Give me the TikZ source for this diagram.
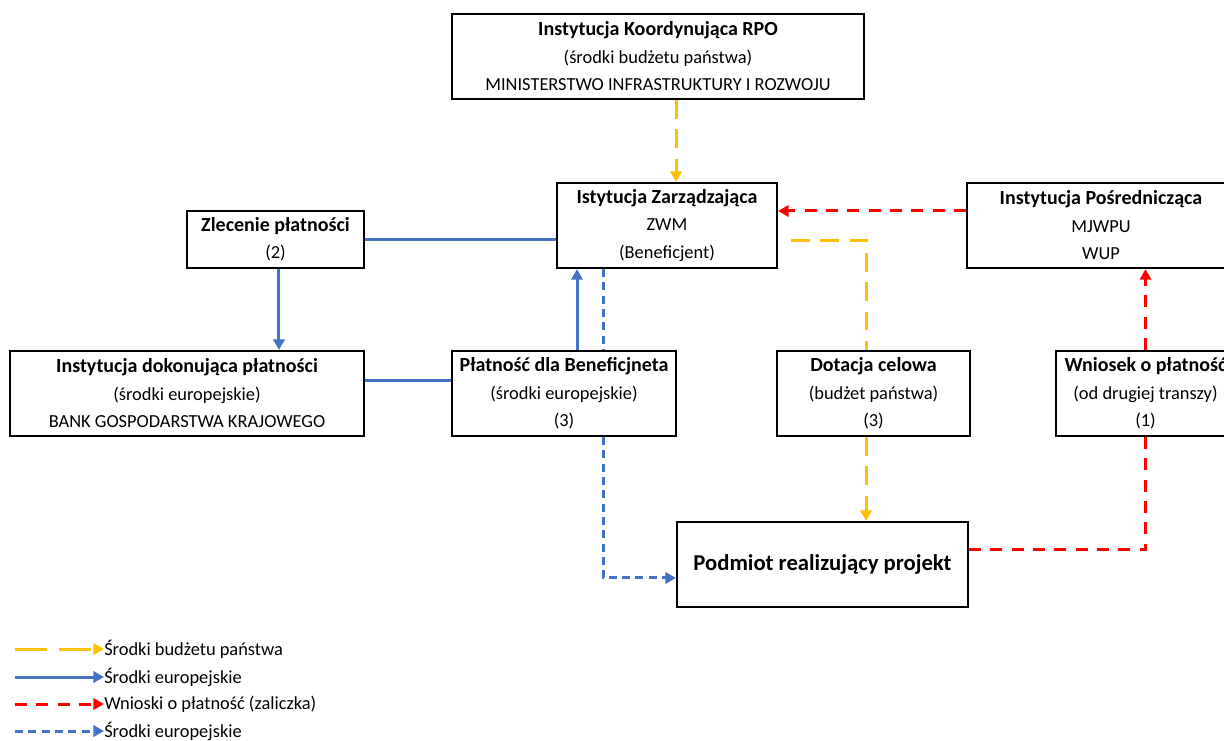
\documentclass[tikz,border=0pt]{standalone}
\usepackage{fontspec}
\setmainfont{Carlito}
\usetikzlibrary{arrows.meta,calc}

\definecolor{zolty}{HTML}{FFC000}
\definecolor{niebieski}{HTML}{4472C4}
\definecolor{czerwony}{HTML}{FF0000}

\tikzset{
  box/.style={draw=black, line width=1.6pt, fill=white, align=center,
    inner sep=0pt, font=\fontsize{13.8}{20.6}\selectfont},
  budzet/.style={draw=zolty, line width=2.25pt, dash pattern=on 14pt off 8pt},
  unijne/.style={draw=niebieski, line width=2.25pt},
  unijnedash/.style={draw=niebieski, line width=2.25pt, dash pattern=on 6pt off 4pt},
  wniosek/.style={draw=czerwony, line width=2.25pt, dash pattern=on 9pt off 7pt},
  grot/.style={-{Triangle[length=8pt,width=8.5pt]}},
  legtext/.style={anchor=west, inner sep=0pt, font=\fontsize{13.8}{14}\selectfont}
}

\newcommand{\naglowek}[1]{{\fontsize{15}{20.6}\selectfont\bfseries #1}}

\begin{document}
\begin{tikzpicture}[x=0.75pt, y=-0.75pt]
  \useasboundingbox (0,0) rectangle (1224,740);
  \clip (0,0) rectangle (1224,740);

  % instytucje
  \node[box, minimum width=309pt, minimum height=63.75pt] (krpo) at (658,56.5)
    {\naglowek{Instytucja Koordynująca RPO}\\(środki budżetu państwa)\\MINISTERSTWO INFRASTRUKTURY I ROZWOJU};
  \node[box, minimum width=165pt, minimum height=63.75pt] (iz) at (667,225.5)
    {\naglowek{Istytucja Zarządzająca}\\ZWM\\(Beneficjent)};
  \node[box, minimum width=132.75pt, minimum height=42.75pt] (zlec) at (275.5,239.5)
    {\naglowek{Zlecenie płatności}\\(2)};
  \node[box, minimum width=201pt, minimum height=63.75pt] (ip) at (1101,225.5)
    {\naglowek{Instytucja Pośrednicząca}\\MJWPU\\WUP};
  \node[box, minimum width=265.5pt, minimum height=63.75pt] (bank) at (187,393.5)
    {\naglowek{Instytucja dokonująca płatności}\\(środki europejskie)\\BANK GOSPODARSTWA KRAJOWEGO};
  \node[box, minimum width=168pt, minimum height=63.75pt] (plat) at (564,393.5)
    {\naglowek{Płatność dla Beneficjneta}\\(środki europejskie)\\(3)};
  \node[box, minimum width=144.75pt, minimum height=63.75pt] (dot) at (873.5,393.5)
    {\naglowek{Dotacja celowa}\\(budżet państwa)\\(3)};
  \node[box, minimum width=134.25pt, minimum height=63.75pt] (wn) at (1145.5,393.5)
    {\naglowek{Wniosek o płatność}\\(od drugiej transzy)\\(1)};
  \node[box, minimum width=218.25pt, minimum height=63.75pt] (pod) at (822.5,564.5)
    {\fontsize{17}{18}\selectfont\bfseries Podmiot realizujący projekt};

  % przeplywy
  \draw[budzet, grot] ([xshift=13.5pt]krpo.south) -- ([xshift=13.5pt]krpo.south |- iz.north);
  \draw[wniosek, grot] ([yshift=10.9pt]ip.west) -- ([yshift=10.9pt]ip.west -| iz.east);
  \draw[unijne] (zlec.east) -- (zlec.east -| iz.west);
  \draw[unijne, grot] ([xshift=2.6pt]zlec.south) -- ([xshift=2.6pt]zlec.south |- bank.north);
  \draw[unijne] ([yshift=10.1pt]bank.east) -- ([yshift=10.1pt]bank.east -| plat.west);
  \draw[unijne, grot] ([xshift=9.75pt]plat.north) -- ([xshift=9.75pt]plat.north |- iz.south);
  \draw[unijnedash] ([xshift=-48pt]iz.south) -- ([xshift=-48pt]iz.south |- plat.north);
  \draw[unijnedash, grot] ([xshift=29.25pt]plat.south) |- ([yshift=-10.1pt]pod.west);
  \draw[budzet] ([xshift=9.75pt,yshift=-10.9pt]iz.east) -| ([xshift=-5.6pt]dot.north);
  \draw[budzet, grot] ([xshift=-5.6pt]dot.south) -- ([xshift=-5.6pt]dot.south |- pod.north);
  \draw[wniosek] ([yshift=10.9pt]pod.east) -| (wn.south);
  \draw[wniosek, grot] (wn.north) -- (wn.north |- ip.south);

  % legenda
  \node[legtext] (leg1) at (104,649) {Środki budżetu państwa};
  \node[legtext] (leg2) at (104,677) {Środki europejskie};
  \node[legtext] (leg3) at (104,704) {Wnioski o płatność (zaliczka)};
  \node[legtext] (leg4) at (104,731) {Środki europejskie};
  \coordinate (l1) at (15,649);
  \coordinate (l2) at (15,677);
  \coordinate (l3) at (15,704);
  \coordinate (l4) at (15,731);
  \draw[budzet, grot, dash pattern=on 24pt off 9pt] (l1) -- (leg1.west);
  \draw[unijne, grot] (l2) -- (leg2.west);
  \draw[wniosek, grot] (l3) -- (leg3.west);
  \draw[unijnedash, grot] (l4) -- (leg4.west);
\end{tikzpicture}
\end{document}
